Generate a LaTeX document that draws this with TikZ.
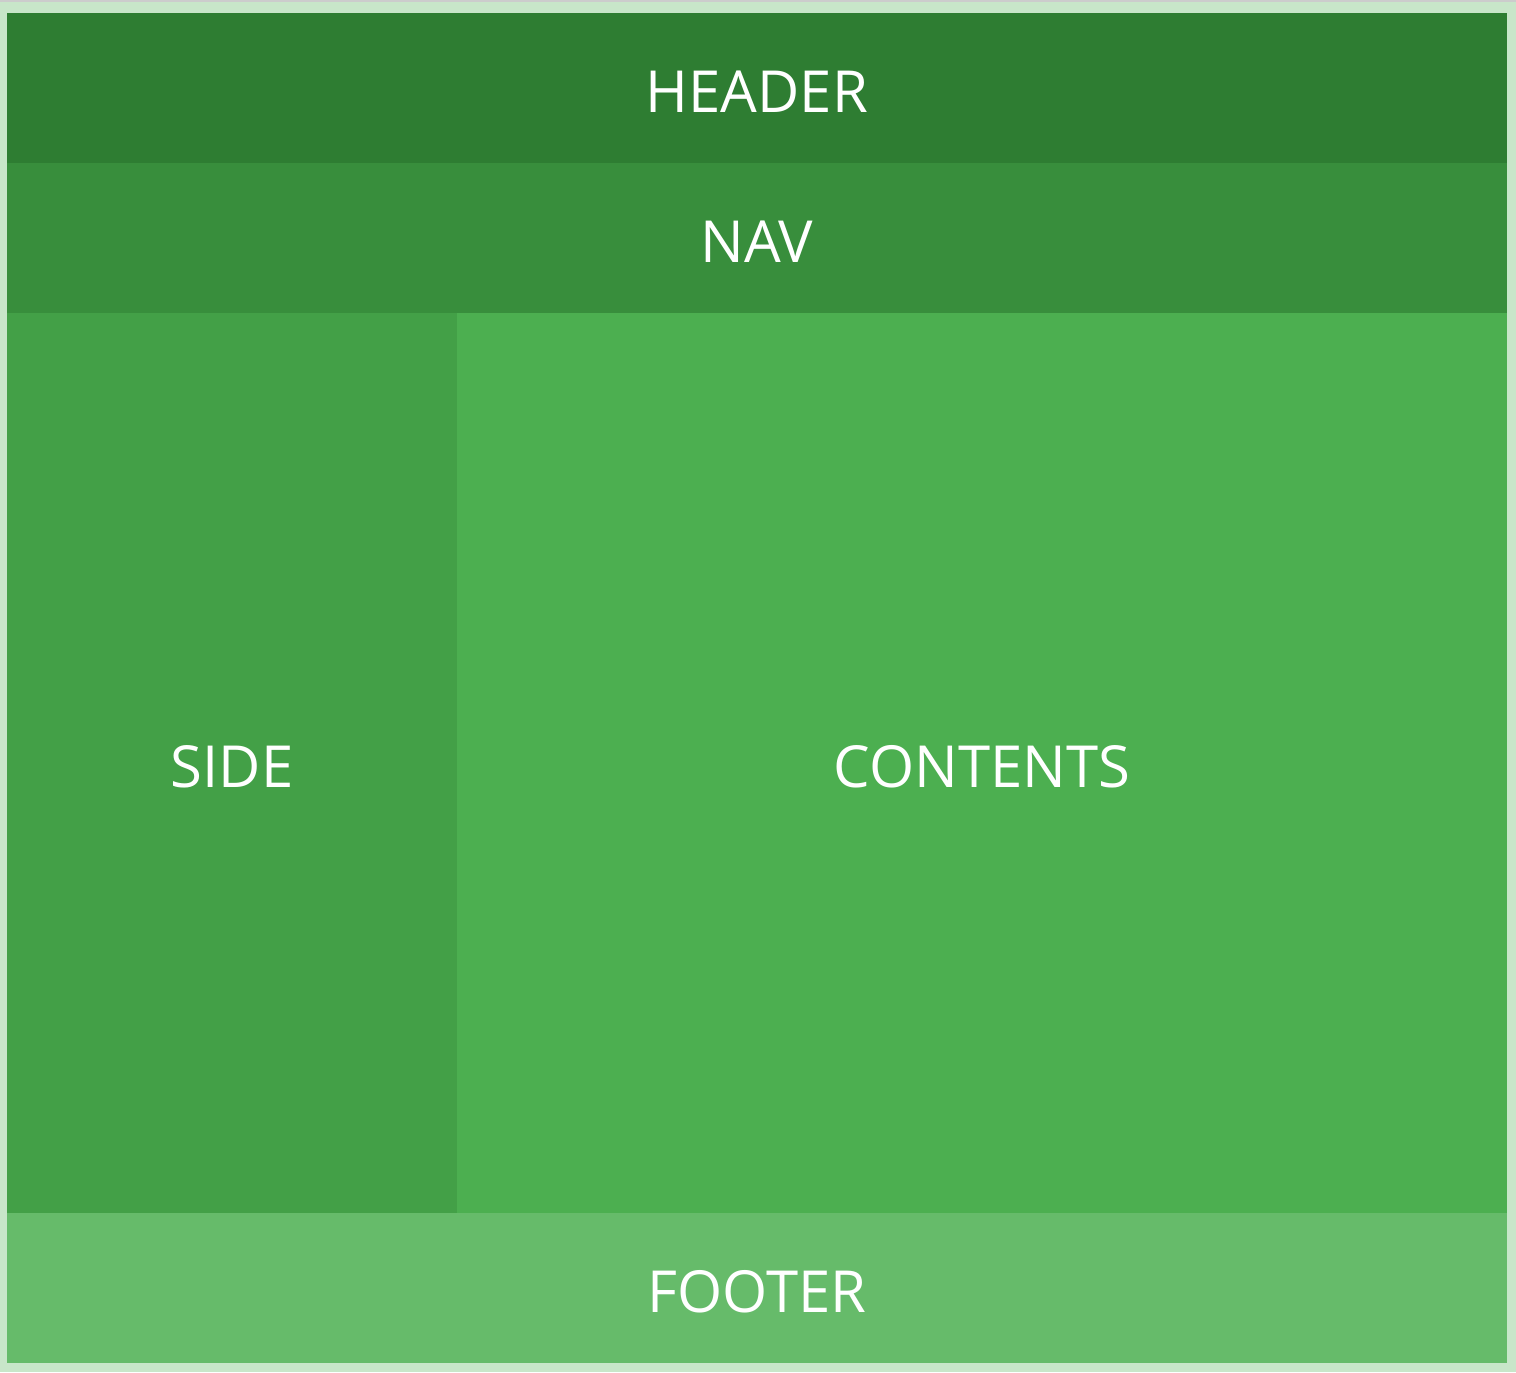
\documentclass[tikz,border=0pt]{standalone}
\usepackage{fontspec}
\setmainfont{Open Sans}
\usetikzlibrary{positioning}
\definecolor{outer}{HTML}{C8E6C9}
\definecolor{hdr}{HTML}{2E7D32}
\definecolor{navc}{HTML}{388E3C}
\definecolor{sidec}{HTML}{43A047}
\definecolor{mainc}{HTML}{4CAF50}
\definecolor{ftr}{HTML}{66BB6A}

\begin{document}
\begin{tikzpicture}[x=0.5pt,y=-0.5pt,
  block/.style={anchor=north west, inner sep=0pt, outer sep=0pt,
    text=white, text height=24.7pt, text depth=0pt,
    font=\fontsize{29}{34}\selectfont}]
% page and frame
\fill[outer] (0,0) rectangle (1516,1372);
\fill[black!20] (0,0) rectangle (1516,2);
\useasboundingbox (0,0) rectangle (1516,1372);
% layout blocks
\node[block, fill=hdr, minimum width=750pt, minimum height=75pt] (header) at (7,13) {HEADER};
\node[block, fill=navc, minimum width=750pt, minimum height=75pt, below=0pt of header.south west, anchor=north west] (nav) {NAV};
\node[block, fill=sidec, minimum width=225pt, minimum height=450pt, below=0pt of nav.south west, anchor=north west] (side) {SIDE};
\node[block, fill=mainc, minimum width=525pt, minimum height=450pt, right=0pt of side.north east, anchor=north west] (contents) {CONTENTS};
\node[block, fill=ftr, minimum width=750pt, minimum height=75pt, below=0pt of side.south west, anchor=north west] (footer) {FOOTER};
\end{tikzpicture}
\end{document}
